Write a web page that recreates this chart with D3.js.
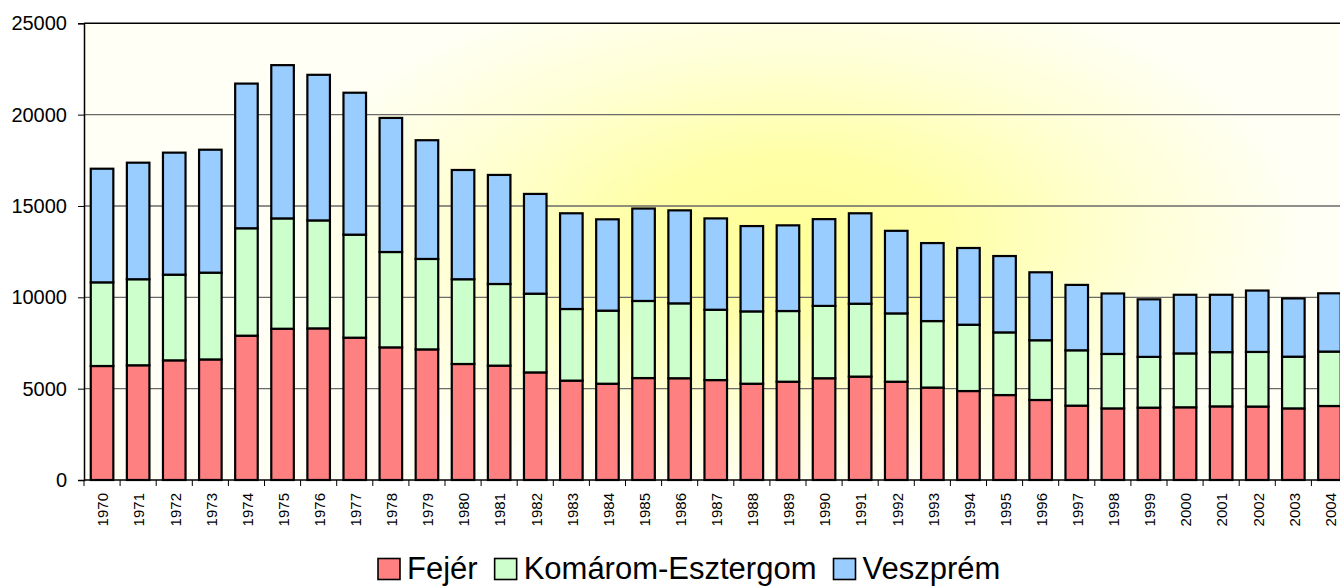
<!DOCTYPE html>
<html><head><meta charset="utf-8">
<script src="https://cdn.jsdelivr.net/npm/d3@7"></script>
<style>body{margin:0;background:#fff}svg{display:block}</style>
</head><body>
<svg id="c" width="1340" height="586"></svg>
<script>
const years = ["1970","1971","1972","1973","1974","1975","1976","1977","1978","1979","1980","1981","1982","1983","1984","1985","1986","1987","1988","1989","1990","1991","1992","1993","1994","1995","1996","1997","1998","1999","2000","2001","2002","2003","2004"];
const fejer = [6240,6280,6550,6600,7900,8280,8300,7790,7260,7150,6350,6260,5890,5440,5270,5580,5570,5470,5270,5380,5570,5660,5380,5060,4870,4650,4380,4070,3920,3960,3980,4030,4020,3920,4050];
const komarom = [4580,4710,4690,4750,5880,6040,5910,5640,5220,4950,4640,4470,4310,3920,4000,4220,4100,3850,3960,3870,3960,3990,3740,3640,3630,3430,3270,3030,2980,2780,2950,2970,2990,2830,2980];
const veszprem = [6220,6380,6680,6730,7920,8390,7970,7770,7340,6500,5980,5970,5460,5240,5000,5060,5090,5000,4670,4690,4750,4950,4520,4270,4200,4180,3720,3580,3310,3150,3210,3140,3360,3190,3190];
const seriesNames = ["Fejér","Komárom-Esztergom","Veszprém"];
const seriesColors = ["#FF8080","#CCFFCC","#99CCFF"];
const yTicks = [0,5000,10000,15000,20000,25000];

const svg = d3.select("#c");
const L = 84, R = 1347.5, T = 23.3, B = 480;
const x = d3.scaleBand().domain(years).range([L, R]).paddingInner(0.375).paddingOuter(0.1875);
const y = d3.scaleLinear().domain([0, 25000]).range([B, T]);

// background gradient
const defs = svg.append("defs");
const g = defs.append("radialGradient").attr("id","bg")
  .attr("gradientUnits","userSpaceOnUse")
  .attr("cx",0).attr("cy",0).attr("r",1)
  .attr("gradientTransform","translate(790,235) scale(520,265)");
g.append("stop").attr("offset","0").attr("stop-color","#FFFF99");
g.append("stop").attr("offset","0.3").attr("stop-color","#FFFFA8");
g.append("stop").attr("offset","0.65").attr("stop-color","#FFFFD4");
g.append("stop").attr("offset","1").attr("stop-color","#FFFFF6");
svg.append("rect").attr("x",L).attr("y",T).attr("width",R-L).attr("height",B-T).attr("fill","url(#bg)");

// gridlines
svg.append("g").selectAll("line").data(yTicks.filter(d=>d>0 && d<25000)).join("line")
  .attr("x1",L).attr("x2",R).attr("y1",d=>y(d)).attr("y2",d=>y(d))
  .attr("stroke","#6a6a6a").attr("stroke-width",1.3);
svg.append("line").attr("x1",L).attr("x2",R).attr("y1",y(25000)).attr("y2",y(25000)).attr("stroke","#000").attr("stroke-width",1.5);

// stacked bars
const rows = years.map((yr,i)=>({year:yr, s0:fejer[i], s1:komarom[i], s2:veszprem[i]}));
const stack = d3.stack().keys(["s0","s1","s2"])(rows);
svg.append("g").selectAll("g").data(stack).join("g")
  .attr("fill",(d,i)=>seriesColors[i])
  .selectAll("rect").data(d=>d).join("rect")
  .attr("x",d=>x(d.data.year)).attr("width",x.bandwidth())
  .attr("y",d=>y(d[1])).attr("height",d=>y(d[0])-y(d[1]))
  .attr("stroke","#000").attr("stroke-width",2.2);

// axes
const yAxis = d3.axisLeft(y).tickValues(yTicks).tickSize(6).tickPadding(11).tickFormat(d=>String(d));
const ya = svg.append("g").attr("transform",`translate(${L},0)`).call(yAxis);
ya.select(".domain").attr("stroke","#000").attr("stroke-width",1.5);
ya.selectAll("text").attr("font-family","'Liberation Sans', Arial, sans-serif").attr("font-size","20px").attr("fill","#000");

const step = x.step();
const xa = svg.append("g").attr("transform",`translate(0,${B})`);
xa.append("line").attr("x1",L).attr("x2",R).attr("stroke","#000").attr("stroke-width",1.5);
xa.selectAll("line.t").data(d3.range(years.length+1)).join("line").attr("class","t")
  .attr("x1",i=>L+i*step).attr("x2",i=>L+i*step).attr("y1",0).attr("y2",6).attr("stroke","#000");
xa.selectAll("text").data(years).join("text")
  .attr("transform",d=>`translate(${x(d)+x.bandwidth()/2+1},13) rotate(-90)`)
  .attr("text-anchor","end").attr("dy","0.35em")
  .attr("font-family","'Liberation Sans', Arial, sans-serif").attr("font-size","15px").attr("fill","#000")
  .text(d=>d);

// legend
const leg = svg.append("g").attr("font-family","'Liberation Sans', Arial, sans-serif").attr("font-size","31px");
let lx = 378;
seriesNames.forEach((n,i)=>{
  leg.append("rect").attr("x",lx).attr("y",558.5).attr("width",22).attr("height",21)
    .attr("fill",seriesColors[i]).attr("stroke","#000").attr("stroke-width",1.6);
  const t = leg.append("text").attr("x",lx+29).attr("y",579).attr("fill","#000").text(n);
  lx += 29 + t.node().getComputedTextLength() + 17;
});
</script>
</body></html>
